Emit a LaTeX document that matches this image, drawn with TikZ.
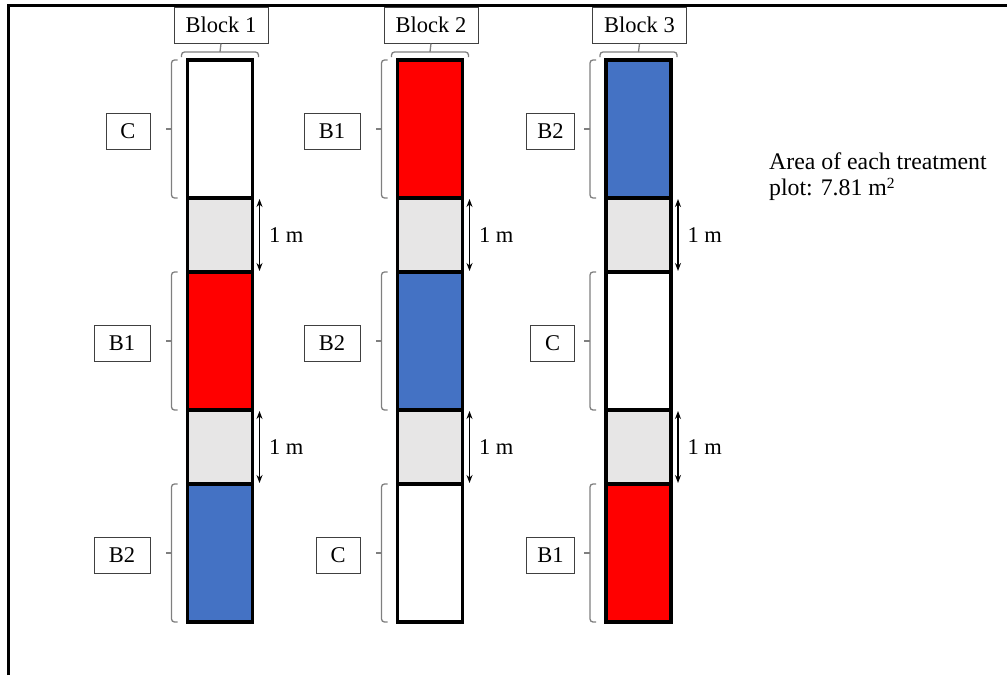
\documentclass[tikz,border=0pt]{standalone}
\usepackage{fontspec}
\setmainfont{Liberation Serif}
\usetikzlibrary{arrows.meta}
\definecolor{plotred}{HTML}{FF0000}
\definecolor{plotblue}{HTML}{4472C4}
\definecolor{pathgray}{HTML}{E7E6E6}
\definecolor{bracegray}{HTML}{7F7F7F}
\definecolor{boxline}{HTML}{404040}
\begin{document}
\begin{tikzpicture}[x=1pt,y=-1pt,
  seg/.style={draw=black, line width=3.2pt, inner sep=0pt, outer sep=0pt, minimum width=65pt},
  plotseg/.style={seg, minimum height=138pt},
  gapseg/.style={seg, fill=pathgray, minimum height=74pt},
  lab/.style={draw=boxline, line width=1pt, fill=white, inner sep=0pt, minimum height=36pt, font=\fontsize{22.5}{24}\selectfont},
  brc/.style={draw=bracegray, line width=1.3pt, rounded corners=3pt},
  dim/.style={{Stealth[length=8pt,width=6pt]}-{Stealth[length=8pt,width=6pt]}, line width=1.2pt},
  dimlab/.style={anchor=west, inner sep=0pt, xshift=9pt, font=\fontsize{22.5}{24}\selectfont},
  note/.style={anchor=base west, inner sep=0pt, font=\fontsize{23.8}{24}\selectfont},
  frameline/.style={line width=3pt}]
\useasboundingbox (0,0) rectangle (1007,675);
% outer frame (top and left edges)
\draw[frameline] (8,675) -- (8,5) -- (1007,5);
% the three blocks: plot fills, labels and label box widths
\foreach \k/\cx/\fa/\fb/\fc/\la/\lb/\lc/\wa/\wb/\wc/\off in {
    1/220/white/plotred/plotblue/C/B1/B2/44/56/56/37,
    2/430/plotred/plotblue/white/B1/B2/C/56/56/44/37,
    3/638.5/plotblue/white/plotred/B2/C/B1/48/44/48/31}{
  % buffer strips between plots
  \node[gapseg] (ga\k) at (\cx,235) {};
  \node[gapseg] (gb\k) at (\cx,447) {};
  % treatment plots
  \node[plotseg, fill=\fa] (pa\k) at (\cx,129) {};
  \node[plotseg, fill=\fb] (pb\k) at (\cx,341) {};
  \node[plotseg, fill=\fc] (pc\k) at (\cx,553) {};
  % block title with bracket over the column
  \node[lab, minimum width=94pt] (blk\k) at (\cx+1,25) {Block \k};
  \draw[brc] ([shift={(-6pt,3pt)}]pa\k.north west) -- ++(0,-5) -- ([shift={(6pt,8pt)}]pa\k.north east) -- ++(0,5);
  \draw[brc] ([yshift=8pt]pa\k.north) -- (blk\k.south);
  % treatment labels with brackets
  \foreach \p/\l/\w in {a/\la/\wa, b/\lb/\wb, c/\lc/\wc}{
    \node[lab, minimum width=\w pt, anchor=east] (t\p\k) at ([shift={(-\off pt,-2pt)}]p\p\k.west) {\l};
    \draw[brc] ([xshift=-10pt]p\p\k.north west) -- ++(-6,0) -- ([xshift=-16pt]p\p\k.south west) -- ++(6,0);
    \draw[brc] ([xshift=-16pt]p\p\k.west) -- ++(-6,0);
  }
  % 1 m spacing dimensions
  \foreach \g in {a,b}{
    \draw[dim] ([shift={(7pt,-1pt)}]g\g\k.north east) -- ([shift={(7pt,1pt)}]g\g\k.south east)
      node[midway, dimlab] (m\g\k) {1 m};
  }
}
\node[note] (area1) at (769,169) {Area of each treatment};
\node[note] (area2) at (769,195) {plot: 7.81 m\raisebox{7pt}{\fontsize{15.5}{15.5}\selectfont 2}};
\end{tikzpicture}
\end{document}
